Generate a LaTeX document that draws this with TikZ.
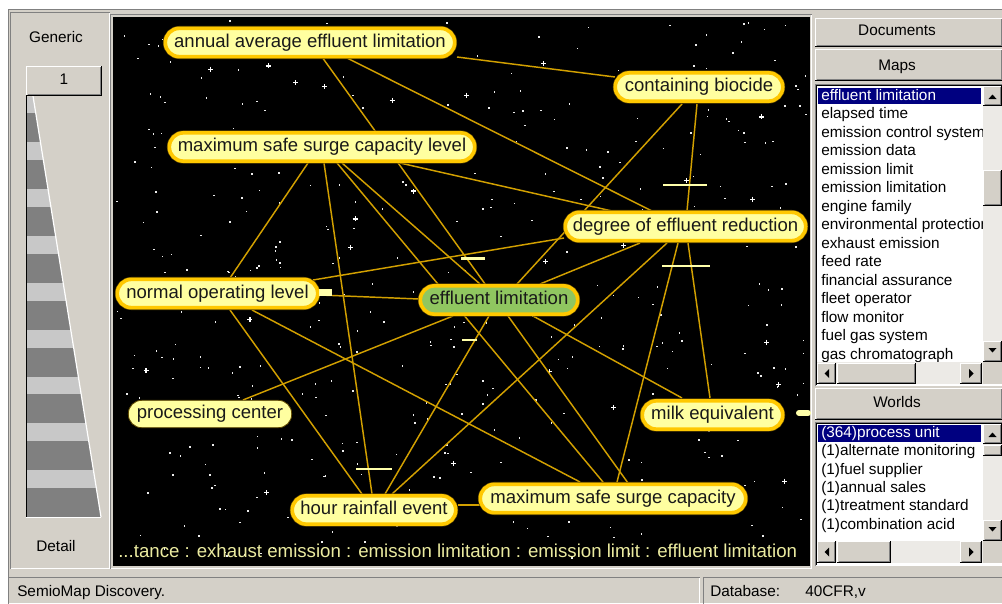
\documentclass[tikz,border=0pt]{standalone}
\usepackage{fontspec}
\setmainfont{Liberation Sans}
\usetikzlibrary{calc}
\definecolor{winbg}{RGB}{212,208,200}
\definecolor{windark}{RGB}{128,128,128}
\definecolor{edgegold}{RGB}{210,160,0}
\definecolor{nodeborder}{RGB}{255,200,0}
\definecolor{nodeedge}{RGB}{95,72,0}
\definecolor{nodefill}{RGB}{255,255,160}
\definecolor{nodegreen}{RGB}{144,198,96}
\definecolor{nodetext}{RGB}{25,25,25}
\definecolor{barpale}{RGB}{255,255,170}
\definecolor{trailtext}{RGB}{235,235,160}
\definecolor{navysel}{RGB}{0,0,128}
\definecolor{trackgray}{RGB}{236,234,230}
\definecolor{stripelight}{RGB}{200,200,200}
\pgfdeclarelayer{back}
\pgfdeclarelayer{edges}
\pgfsetlayers{back,edges,main}
\newcommand\uibutton[4]{%
  \fill[winbg] (#1,#2) rectangle (#3,#4);
  \draw[white, line width=0.75pt] (#1+0.5,#4-1) -- (#1+0.5,#2+0.5) -- (#3-1,#2+0.5);
  \draw[black, line width=0.75pt] (#1,#4-0.5) -- (#3-0.5,#4-0.5) -- (#3-0.5,#2);
  \draw[windark, line width=0.75pt] (#1+1.5,#4-1.5) -- (#3-1.5,#4-1.5) -- (#3-1.5,#2+1);
}
\newcommand\uisunken[4]{%
  \draw[windark, line width=0.75pt] (#1+0.5,#4) -- (#1+0.5,#2+0.5) -- (#3,#2+0.5);
  \draw[white, line width=0.75pt] (#1+0.5,#4-0.5) -- (#3-0.5,#4-0.5) -- (#3-0.5,#2+0.5);
}
\begin{document}
\begin{tikzpicture}[x=0.75pt,y=-0.75pt,
  concept/.style={rounded corners=10.5pt, preaction={draw=nodeedge, line width=3.6pt},
    draw=nodeborder, line width=2.7pt, fill=nodefill, minimum height=21.2pt,
    inner sep=0pt, font=\fontsize{13.9}{16}\selectfont, text=nodetext,
    text height=10pt, text depth=3pt},
  focus/.style={concept, fill=nodegreen},
  plainconcept/.style={rounded corners=10pt, draw=nodeedge, line width=0.6pt,
    fill=nodefill, minimum height=20.5pt, inner sep=0pt,
    font=\fontsize{13.9}{16}\selectfont, text=nodetext, text height=10pt, text depth=3pt},
  link/.style={draw=edgegold, line width=1.1pt},
  tick/.style={draw=barpale, line width=2.2pt},
  uitext/.style={font=\fontsize{11.5}{13}\selectfont, text=black, inner sep=0pt,
    text height=8.5pt, text depth=2.5pt},
  listitem/.style={uitext, anchor=west},
]
\useasboundingbox (0,0) rectangle (1002,603);
\begin{pgfonlayer}{back}
  % window chrome background
  \fill[white] (0,0) rectangle (1002,603);
  \fill[winbg] (8,9) rectangle (1002,603);
  % canvas
  \fill[black] (113,17) rectangle (810,566);
  \pgfmathsetseed{4242}
  \foreach \i in {1,...,420}{
    \pgfmathsetmacro\sx{116+690*rnd}
    \pgfmathsetmacro\sy{20+540*rnd}
    \fill[white!85!gray] (\sx,\sy) rectangle ++(1.5,1.5);
  }
  \foreach \i in {1,...,28}{
    \pgfmathsetmacro\sx{120+680*rnd}
    \pgfmathsetmacro\sy{22+530*rnd}
    \draw[white, line width=0.9pt] (\sx-2.5,\sy) -- (\sx+2.5,\sy) (\sx,\sy-2.5) -- (\sx,\sy+2.5);
  }
\end{pgfonlayer}
\draw[windark, line width=0.75pt] (8.5,603) -- (8.5,9.5) -- (1002,9.5);
% left panel
\uisunken{10}{12}{110}{569}
\node[uitext] (generic) at (56,38) {Generic};
\node[uitext] (detail) at (56,547) {Detail};
\begin{scope}
  \clip (27,97) -- (33,97) -- (101,517) -- (27,517) -- cycle;
  \fill[stripelight] (27,97) rectangle (101,517);
  \foreach \k in {0,...,8} \fill[windark] (27,113+46.9*\k) rectangle (101,142+46.9*\k);
\end{scope}
\draw[white, line width=0.9pt] (33,96) -- (101,517);
\draw[black, line width=1pt] (26.5,95) -- (26.5,517);
\draw[white, line width=0.75pt] (26,517.5) -- (101,517.5);
\uibutton{26}{66}{102}{96}
\node[uitext] (level) at (64,80) {1};
% canvas frame
\uisunken{110}{14}{812}{569}
% concept nodes
\node[concept, minimum width=217pt] (A) at (310,42.5) {annual average effluent limitation};
\node[concept, minimum width=125.6pt] (B) at (699,87) {containing biocide};
\node[concept, minimum width=229pt] (C) at (322,147) {maximum safe surge capacity level};
\node[concept, minimum width=180.3pt] (D) at (685.5,226.5) {degree of effluent reduction};
\node[concept, minimum width=150.3pt] (E) at (217.5,293.5) {normal operating level};
\node[focus, minimum width=118pt] (F) at (499,300) {effluent limitation};
\node[plainconcept, minimum width=122.5pt] (G) at (210,414) {processing center};
\node[concept, minimum width=105.3pt] (H) at (712.5,415) {milk equivalent};
\node[concept, minimum width=122.6pt] (I) at (374,510) {hour rainfall event};
\node[concept, minimum width=199pt] (J) at (613,498.5) {maximum safe surge capacity};
\node[anchor=west, inner sep=0pt, font=\fontsize{14.0}{16}\selectfont, text=trailtext] (trail) at (118,551)
  {...tance : exhaust emission : emission limitation : emission limit : effluent limitation};
% connectors
\begin{pgfonlayer}{edges}
  \draw[link] ($(A)+(147,14.5)$) -- ($(B)+(-84,-10)$);
  \draw[link] ($(A)+(37,15.5)$) -- ($(D)+(-33.5,-15.5)$);
  \draw[link] ($(A)+(12,14.5)$) -- ($(J)+(15,-15.5)$);
  \draw[link] ($(B)+(-17,17)$) -- ($(F)+(18,-16)$);
  \draw[link] ($(B)+(-2,17)$) -- ($(D)+(1.5,-15.5)$);
  \draw[link] ($(C)+(78,16)$) -- ($(D)+(-73.5,-15.5)$);
  \draw[link] ($(C)+(-14,16)$) -- ($(E)+(12.5,-15.5)$);
  \draw[link] ($(C)+(2,16)$) -- ($(I)+(-2,-16)$);
  \draw[link] ($(C)+(15,16)$) -- ($(J)+(-10,-16.5)$);
  \draw[link] ($(C)+(20,16)$) -- ($(F)+(-19,-16)$);
  \draw[link] ($(D)+(-121.5,11.5)$) -- ($(E)+(95.5,-13.5)$);
  \draw[link] ($(D)+(-45.5,16.5)$) -- ($(F)+(41,-16)$);
  \draw[link] ($(D)+(2.5,16.5)$) -- ($(H)+(-2.5,-17)$);
  \draw[link] ($(D)+(-7.5,16.5)$) -- ($(J)+(4,-16.5)$);
  \draw[link] ($(D)+(-18.5,16.5)$) -- ($(I)+(18,-16)$);
  \draw[link] ($(E)+(102.5,1.5)$) -- ($(F)+(-80,-1)$);
  \draw[link] ($(E)+(12.5,16.5)$) -- ($(I)+(-12,-16)$);
  \draw[link] ($(E)+(34.5,16.5)$) -- ($(J)+(-33,-16.5)$);
  \draw[link] ($(F)+(-46,16)$) -- ($(G)+(33,-14)$);
  \draw[link] ($(F)+(34,16)$) -- ($(H)+(-30.5,-17)$);
  \draw[link] ($(F)+(-10,16)$) -- ($(I)+(11,-16)$);
  \draw[link] ($(I)+(84,-5)$) -- ($(J)+(-133,6.5)$);
\end{pgfonlayer}
% tension bars
\draw[tick] (663,185) -- (707,185);
\draw[tick] (662,266) -- (710,266);
\draw[tick] (461,258.5) -- (485,258.5);
\draw[tick] (462,340) -- (477,340);
\draw[tick] (356,469) -- (392,469);
\fill[barpale] (319,289) rectangle (332,296);
\draw[barpale, line width=4.5pt, line cap=round] (799,413) -- (808,413);
% right panel
\uibutton{815}{18}{1003}{47}
\node[uitext] (docs) at (897,31) {Documents};
\uibutton{815}{49}{1003}{81}
\node[uitext] (maps) at (897,66) {Maps};
\fill[white] (815,84) rectangle (1003,386);
\uisunken{815}{84}{1003}{386}
\draw[black, line width=0.75pt] (816.5,385) -- (816.5,85.5) -- (1002,85.5);
\fill[navysel] (818,88) rectangle (981,104);
\begin{scope}
  \clip (817,86) rectangle (983,362);
  \node[listitem, text=white] (m1) at (821,96) {effluent limitation};
  \foreach \t [count=\n from 2] in {elapsed time, emission control system, emission data,
      emission limit, emission limitation, engine family, environmental protection,
      exhaust emission, feed rate, financial assurance, fleet operator, flow monitor,
      fuel gas system, gas chromatograph}
    \node[listitem] (m\n) at (821,96+18.5*\n-18.5) {\t};
\end{scope}
% scrollbars list 1
\fill[trackgray] (983,86) rectangle (1002,362);
\uibutton{983}{86}{1002}{106}
\fill[black] (988.5,99) -- (996.5,99) -- (992.5,94.5) -- cycle;
\uibutton{983}{170}{1002}{206}
\uibutton{983}{341}{1002}{362}
\fill[black] (988.5,348) -- (996.5,348) -- (992.5,352.5) -- cycle;
\fill[trackgray] (817,362) rectangle (983,384);
\uibutton{817}{363}{836}{384}
\fill[black] (829,369) -- (829,378) -- (824.5,373.5) -- cycle;
\uibutton{837}{363}{916}{384}
\uibutton{960}{363}{982}{384}
\fill[black] (969,369) -- (969,378) -- (973.5,373.5) -- cycle;
\fill[winbg] (983,362) rectangle (1002,384);
% worlds
\uibutton{815}{388}{1003}{420}
\node[uitext] (worlds) at (897,403) {Worlds};
\fill[white] (815,422) rectangle (1003,566);
\uisunken{815}{422}{1003}{566}
\draw[black, line width=0.75pt] (816.5,565) -- (816.5,423.5) -- (1002,423.5);
\fill[navysel] (818,425) rectangle (981,442);
\begin{scope}
  \clip (817,424) rectangle (983,541);
  \node[listitem, text=white] (w1) at (821,433.5) {(364)process unit};
  \foreach \t [count=\n from 2] in {(1)alternate monitoring, (1)fuel supplier, (1)annual sales,
      (1)treatment standard, (1)combination acid}
    \node[listitem] (w\n) at (821,433.5+18.3*\n-18.3) {\t};
\end{scope}
\fill[trackgray] (983,424) rectangle (1002,541);
\uibutton{983}{424}{1002}{444}
\fill[black] (988.5,437) -- (996.5,437) -- (992.5,432.5) -- cycle;
\uibutton{983}{445}{1002}{456}
\uibutton{983}{520}{1002}{541}
\fill[black] (988.5,527) -- (996.5,527) -- (992.5,531.5) -- cycle;
\fill[trackgray] (817,541) rectangle (983,563);
\uibutton{817}{541}{836}{563}
\fill[black] (829,547.5) -- (829,556.5) -- (824.5,552) -- cycle;
\uibutton{837}{541}{891}{563}
\uibutton{960}{541}{982}{563}
\fill[black] (969,547.5) -- (969,556.5) -- (973.5,552) -- cycle;
\fill[winbg] (983,541) rectangle (1002,563);
% status bar
\uisunken{8}{577}{700}{604}
\uisunken{703}{577}{1003}{604}
\node[listitem] (status) at (17,592) {SemioMap Discovery.};
\node[listitem] (dblabel) at (710,592) {Database:};
\node[listitem] (dbname) at (805,592) {40CFR,v};
\end{tikzpicture}
\end{document}
